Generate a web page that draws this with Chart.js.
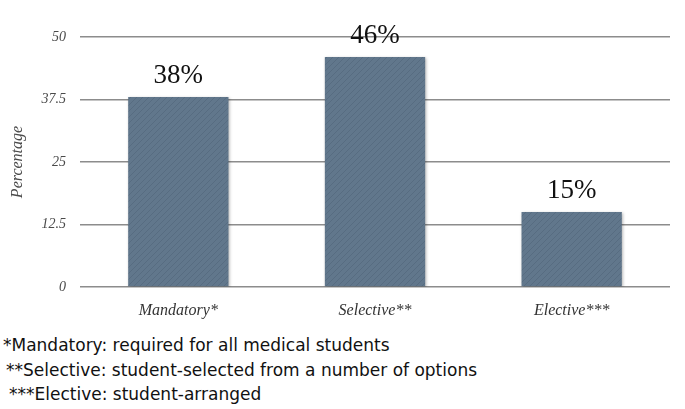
<!DOCTYPE html>
<html>
<head>
<meta charset="utf-8">
<script src="https://cdn.jsdelivr.net/npm/chart.js@4.4.0/dist/chart.umd.min.js"></script>
<style>
  html, body { margin: 0; padding: 0; background: #fff; }
  #wrap { position: relative; width: 685px; height: 320px; }
  .notes { font-family: "DejaVu Sans", Verdana, sans-serif; font-size: 17px; color: #111; line-height: 24.5px; margin-top: 13px; }
  .notes div { white-space: nowrap; }
</style>
</head>
<body>
<div id="wrap"><canvas id="chart" width="685" height="320"></canvas></div>
<div class="notes">
  <div style="padding-left:3px">*Mandatory: required for all medical students</div>
  <div style="padding-left:6px">**Selective: student-selected from a number of options</div>
  <div style="padding-left:9px">***Elective: student-arranged</div>
</div>
<script>
const categories = ['Mandatory*', 'Selective**', 'Elective***'];
const percentages = [38, 46, 15];
const yTicks = [0, 12.5, 25, 37.5, 50];

// diagonal hatch like the original's textured bars
function hatch() {
    const c = document.createElement('canvas');
    c.width = 6; c.height = 6;
    const g = c.getContext('2d');
    g.fillStyle = '#61778c';
    g.fillRect(0, 0, 6, 6);
    g.strokeStyle = 'rgba(78, 98, 117, 0.5)';
    g.lineWidth = 1;
    g.beginPath();
    g.moveTo(0, 6); g.lineTo(6, 0);
    g.moveTo(-3, 3); g.lineTo(3, -3);
    g.moveTo(3, 9); g.lineTo(9, 3);
    g.stroke();
    return g.createPattern(c, 'repeat');
}

const valueLabels = {
    id: 'valueLabels',
    beforeDatasetDraw(chart) {
        const ctx = chart.ctx;
        ctx.save();
        ctx.shadowColor = 'rgba(0,0,0,0.3)';
        ctx.shadowBlur = 3;
        ctx.shadowOffsetX = 1;
        ctx.shadowOffsetY = 1;
    },
    afterDatasetDraw(chart) {
        chart.ctx.restore();
    },
    afterDatasetsDraw(chart) {
        const ctx = chart.ctx;
        const meta = chart.getDatasetMeta(0);
        ctx.save();
        ctx.font = '27px "Liberation Serif", serif';
        ctx.fillStyle = '#111';
        ctx.textAlign = 'center';
        ctx.textBaseline = 'bottom';
        meta.data.forEach((bar, i) => {
            ctx.fillText(percentages[i] + '%', bar.x, bar.y - 8);
        });
        ctx.restore();
    }
};

new Chart(document.getElementById('chart'), {
    type: 'bar',
    data: {
        labels: categories,
        datasets: [{
            data: percentages,
            backgroundColor: hatch(),
            borderWidth: 0,
            categoryPercentage: 1,
            barPercentage: 0.51
        }]
    },
    options: {
        responsive: false,
        animation: false,
        events: [],
        layout: { padding: { top: 37, right: 15, left: 0, bottom: 0 } },
        plugins: { legend: { display: false }, tooltip: { enabled: false } },
        scales: {
            y: {
                min: 0,
                max: 50,
                afterBuildTicks: s => { s.ticks = yTicks.map(v => ({ value: v })); },
                afterFit: s => { s.width = 80; },
                border: { display: false },
                grid: { color: '#8c8c8c', lineWidth: 1.6, drawTicks: false },
                ticks: {
                    padding: 14,
                    color: '#4a4a4a',
                    font: { family: '"Liberation Serif", serif', style: 'italic', size: 14 }
                },
                title: {
                    display: true,
                    text: 'Percentage',
                    color: '#4a4a4a',
                    padding: { top: 8, bottom: 0 },
                    font: { family: '"Liberation Serif", serif', style: 'italic', size: 16 }
                }
            },
            x: {
                afterFit: s => { s.height = 33; },
                border: { display: false },
                grid: { display: false },
                ticks: {
                    padding: 6,
                    color: '#333',
                    font: { family: '"Liberation Serif", serif', style: 'italic', size: 16 }
                }
            }
        }
    },
    plugins: [valueLabels]
});
</script>
</body>
</html>
